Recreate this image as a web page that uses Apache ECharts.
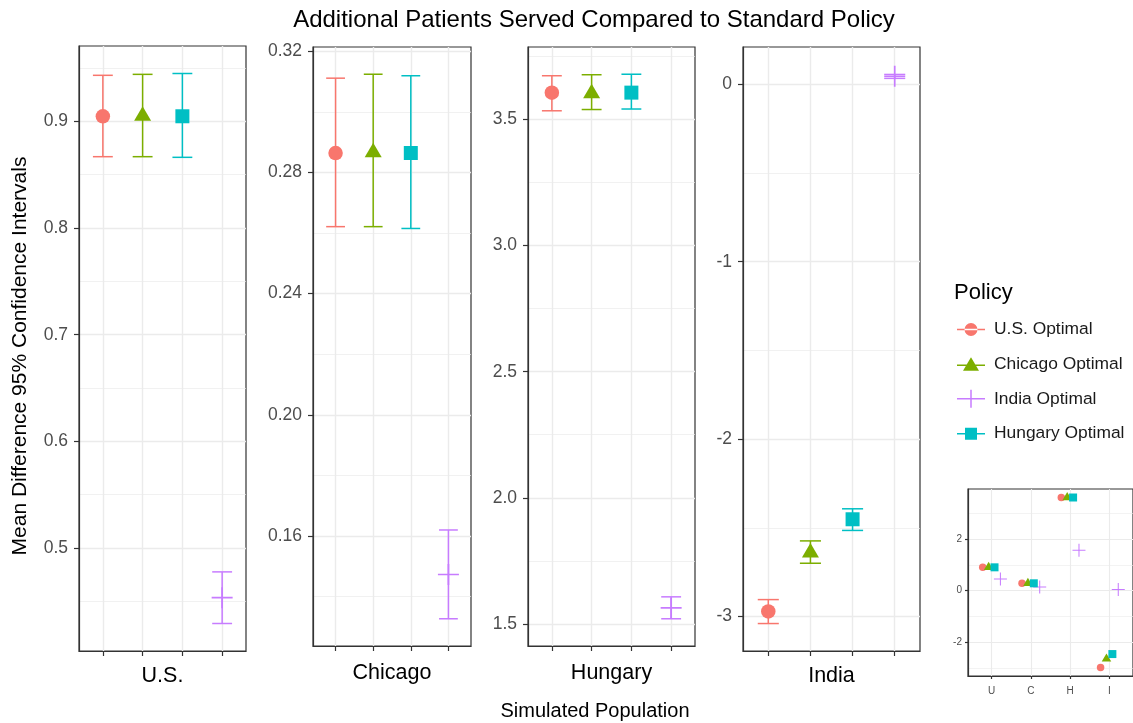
<!DOCTYPE html>
<html>
<head>
<meta charset="utf-8">
<script src="https://cdn.jsdelivr.net/npm/echarts@6/dist/echarts.min.js"></script>
<style>
html, body { margin: 0; padding: 0; background: #ffffff; }
#chart { width: 1133px; height: 723px; }
</style>
</head>
<body>
<div id="chart"></div>
<script>
// Simulated populations (one facet each) and their short names for the overview panel
const populations = ['U.S.', 'Chicago', 'Hungary', 'India'];
const populationShort = ['U', 'C', 'H', 'I'];

// Policies in legend order, and the x slot each one takes inside a facet
const policies = ['U.S. Optimal', 'Chicago Optimal', 'India Optimal', 'Hungary Optimal'];
const policySlots = [1, 2, 4, 3];

// Mean difference vs. standard policy, per population (U.S., Chicago, Hungary, India)
const meanUSOptimal      = [0.9048, 0.2864, 3.607, -2.972];
const meanChicagoOptimal = [0.9052, 0.2866, 3.604, -2.640];
const meanIndiaOptimal   = [0.4534, 0.1473, 1.563, 0.046];
const meanHungaryOptimal = [0.9048, 0.2864, 3.607, -2.452];

// Lower / upper 95% confidence bounds, same population order
const lowerUSOptimal      = [0.8669, 0.2621, 3.535, -3.040];
const upperUSOptimal      = [0.9432, 0.3111, 3.674, -2.905];
const lowerChicagoOptimal = [0.8669, 0.2621, 3.540, -2.700];
const upperChicagoOptimal = [0.9441, 0.3124, 3.678, -2.574];
const lowerIndiaOptimal   = [0.4292, 0.1327, 1.520, 0.034];
const upperIndiaOptimal   = [0.4776, 0.1620, 1.607, 0.056];
const lowerHungaryOptimal = [0.8663, 0.2615, 3.542, -2.515];
const upperHungaryOptimal = [0.9449, 0.3119, 3.680, -2.393];

// y tick labels of each facet, and of the overview panel
const yTicksUS      = ['0.5', '0.6', '0.7', '0.8', '0.9'];
const yTicksChicago = ['0.16', '0.20', '0.24', '0.28', '0.32'];
const yTicksHungary = ['1.5', '2.0', '2.5', '3.0', '3.5'];
const yTicksIndia   = ['-3', '-2', '-1', '0'];
const yTicksOverview = ['-2', '0', '2'];

const colors = ['#F8766D', '#7CAE00', '#C77CFF', '#00BFC4'];
const means  = [meanUSOptimal, meanChicagoOptimal, meanIndiaOptimal, meanHungaryOptimal];
const lowers = [lowerUSOptimal, lowerChicagoOptimal, lowerIndiaOptimal, lowerHungaryOptimal];
const uppers = [upperUSOptimal, upperChicagoOptimal, upperIndiaOptimal, upperHungaryOptimal];
const facetTicks = [yTicksUS, yTicksChicago, yTicksHungary, yTicksIndia];

const FONT = '"Liberation Sans", Arial, Helvetica, sans-serif';
const GRID_COLOR = '#EBEBEB';
const BORDER_COLOR = '#333333';
const TICK_TEXT = '#4D4D4D';

// plus sign drawn as two thin bars
const PLUS_PATH = 'path://M9.2 0H10.8V20H9.2Z M0 9.2H20V10.8H0Z';

// point shapes: filled circle, filled triangle, plus, filled square
const symbols = ['circle', 'triangle', PLUS_PATH, 'rect'];
const symbolSizes = [14.5, [17, 14.5], 21, 14];
const symbolOffsets = [[0, 0], [0, -2.4], [0, 0], [0, 0]];
const overviewSizes = [7.5, [9.5, 8.2], 13, 8];
const overviewOffsets = [[0, 0], [0, -1.4], [0, 0], [0, 0]];

// facet panel rectangles
const panels = [
  { left: 79,  top: 46, width: 167, height: 605 },
  { left: 313, top: 47, width: 158, height: 599 },
  { left: 528, top: 47, width: 167, height: 599 },
  { left: 743, top: 47, width: 177, height: 604 }
];
const overviewPanel = { left: 968, top: 489, width: 169, height: 187 };

// ggplot-like 5% expansion of a continuous range
function expandRange(values) {
  const lo = Math.min.apply(null, values), hi = Math.max.apply(null, values);
  const pad = (hi - lo) * 0.05;
  return [lo - pad, hi + pad];
}
// minor break positions halfway between the major ones
function minorBreaks(major, range) {
  const step = major[1] - major[0];
  const out = [];
  for (let v = major[0] - step / 2; v <= range[1] + 1e-9; v += step) {
    if (v >= range[0] - 1e-9) out.push(+v.toFixed(6));
  }
  return out;
}

const grids = [], xAxes = [], yAxes = [], series = [];

function addAxes(gridIndex, rect, majorLabels, range, opts) {
  grids.push({ left: rect.left, top: rect.top, width: rect.width, height: rect.height,
    show: true, borderColor: BORDER_COLOR, borderWidth: 1.2, backgroundColor: '#ffffff', containLabel: false });
  const major = majorLabels.map(Number);
  xAxes.push({
    type: 'value', gridIndex: gridIndex, min: 0.4, max: 4.6,
    name: opts.facetName || '', nameLocation: 'middle', nameGap: opts.nameGap || 17,
    nameTextStyle: { fontSize: 21.5, color: '#000000', fontFamily: FONT },
    axisLine: { show: true, onZero: false, lineStyle: { color: BORDER_COLOR, width: 1.2 } },
    axisTick: { show: true, length: opts.tickLen, lineStyle: { color: BORDER_COLOR, width: 1.2 }, customValues: [1, 2, 3, 4] },
    axisLabel: opts.xLabels
      ? { show: true, customValues: [1, 2, 3, 4], formatter: v => opts.xLabels[Math.round(v) - 1],
          fontSize: opts.labelSize, color: TICK_TEXT, fontFamily: FONT, margin: 10 }
      : { show: false },
    splitLine: { show: true, lineStyle: { color: GRID_COLOR, width: opts.majorWidth } }
  });
  yAxes.push({
    type: 'value', gridIndex: gridIndex, min: range[0], max: range[1], position: 'left',
    axisLine: { show: true, onZero: false, lineStyle: { color: BORDER_COLOR, width: 1.2 } },
    axisTick: { show: true, length: opts.tickLen, lineStyle: { color: BORDER_COLOR, width: 1.2 }, customValues: major },
    axisLabel: { show: true, customValues: major, formatter: v => majorLabels[major.indexOf(+v.toFixed(6))] ?? String(v),
      fontSize: opts.labelSize, color: TICK_TEXT, fontFamily: FONT, margin: opts.labelMargin },
    splitLine: { show: true, lineStyle: { color: GRID_COLOR, width: opts.majorWidth } }
  });
  yAxes.push({
    type: 'value', gridIndex: gridIndex, min: range[0], max: range[1], position: 'left',
    axisLine: { show: false }, axisLabel: { show: false },
    axisTick: { show: false, customValues: minorBreaks(major, range) },
    splitLine: { show: true, lineStyle: { color: GRID_COLOR, width: opts.minorWidth } }
  });
}

// four facets with error bars and points
for (let p = 0; p < populations.length; p++) {
  const all = [];
  for (let k = 0; k < policies.length; k++) all.push(means[k][p], lowers[k][p], uppers[k][p]);
  const range = expandRange(all);
  addAxes(p, panels[p], facetTicks[p], range, {
    facetName: populations[p], nameGap: (p === 0 || p === 3) ? 14 : 16,
    tickLen: 5, labelSize: 17.5, labelMargin: 11, majorWidth: 1.4, minorWidth: 0.7
  });
  for (let k = 0; k < policies.length; k++) {
    const x = policySlots[k];
    series.push({
      type: 'custom', name: policies[k], xAxisIndex: p, yAxisIndex: 2 * p, z: 3,
      data: [[x, lowers[k][p], uppers[k][p]]],
      encode: { x: 0, y: [1, 2] },
      renderItem: (function (color) {
        return function (params, api) {
          const xv = api.value(0);
          const top = api.coord([xv, api.value(2)]);
          const bot = api.coord([xv, api.value(1)]);
          const half = api.coord([xv + 0.25, api.value(1)])[0] - bot[0];
          const style = { stroke: color, lineWidth: 1.5, fill: null };
          return { type: 'group', children: [
            { type: 'line', shape: { x1: top[0], y1: top[1], x2: bot[0], y2: bot[1] }, style: style },
            { type: 'line', shape: { x1: top[0] - half, y1: top[1], x2: top[0] + half, y2: top[1] }, style: style },
            { type: 'line', shape: { x1: bot[0] - half, y1: bot[1], x2: bot[0] + half, y2: bot[1] }, style: style }
          ] };
        };
      })(colors[k])
    });
    series.push({
      type: 'scatter', name: policies[k], xAxisIndex: p, yAxisIndex: 2 * p, z: 4,
      symbol: symbols[k], symbolSize: symbolSizes[k], symbolOffset: symbolOffsets[k],
      itemStyle: { color: colors[k], opacity: 1 },
      emphasis: { disabled: true },
      data: [[x, means[k][p]]]
    });
  }
}

// overview panel: every mean at once, dodged within each population
{
  const all = [];
  for (let k = 0; k < policies.length; k++) all.push.apply(all, means[k]);
  const range = expandRange(all);
  addAxes(4, overviewPanel, yTicksOverview, range, {
    xLabels: populationShort, tickLen: 3, labelSize: 10, labelMargin: 6, majorWidth: 1.1, minorWidth: 0.6
  });
  for (let k = 0; k < policies.length; k++) {
    const dodge = (policySlots[k] - 2.5) * 0.15;
    series.push({
      type: 'scatter', name: policies[k], xAxisIndex: 4, yAxisIndex: 8, z: 4,
      symbol: symbols[k], symbolSize: overviewSizes[k], symbolOffset: overviewOffsets[k],
      itemStyle: { color: colors[k], opacity: 1 },
      emphasis: { disabled: true },
      data: means[k].map((m, i) => [i + 1 + dodge, m])
    });
  }
}

// legend keys: a short horizontal line through the point shape
const legendIcons = [
  'path://M0 8.25H28V9.75H0Z M7.5 9A6.5 6.5 0 1 0 20.5 9A6.5 6.5 0 1 0 7.5 9Z',
  'path://M0 10.25H28V11.75H0Z M14 3L22 16.5H6Z',
  'path://M0 8.25H28V9.75H0Z M13.25 0H14.75V18H13.25Z',
  'path://M0 8.25H28V9.75H0Z M8 3H20V15H8Z'
];

const chart = echarts.init(document.getElementById('chart'), null, { renderer: 'canvas' });
chart.setOption({
  animation: false,
  backgroundColor: '#ffffff',
  textStyle: { fontFamily: FONT },
  grid: grids,
  xAxis: xAxes,
  yAxis: yAxes,
  series: series,
  legend: {
    orient: 'vertical', left: 957, top: 321, padding: 0,
    itemWidth: 28, itemHeight: 18, itemGap: 17.4,
    selectedMode: false,
    textStyle: { fontSize: 17.4, color: '#1A1A1A', fontFamily: FONT, padding: [0, 0, 0, 4] },
    data: policies.map((name, k) => ({ name: name, icon: legendIcons[k], itemStyle: { color: colors[k] } }))
  },
  graphic: [
    { type: 'text', x: 594, y: 20, style: { text: 'Additional Patients Served Compared to Standard Policy',
      fontSize: 24, fill: '#000000', fontFamily: FONT, textAlign: 'center', textVerticalAlign: 'middle' } },
    { type: 'text', x: 20, y: 356, rotation: Math.PI / 2, style: { text: 'Mean Difference 95% Confidence Intervals',
      fontSize: 21, fill: '#000000', fontFamily: FONT, textAlign: 'center', textVerticalAlign: 'middle' } },
    { type: 'text', x: 595, y: 711, style: { text: 'Simulated Population',
      fontSize: 20, fill: '#000000', fontFamily: FONT, textAlign: 'center', textVerticalAlign: 'middle' } },
    { type: 'text', x: 954, y: 293, style: { text: 'Policy',
      fontSize: 22, fill: '#000000', fontFamily: FONT, textAlign: 'left', textVerticalAlign: 'middle' } }
  ]
});
</script>
</body>
</html>
